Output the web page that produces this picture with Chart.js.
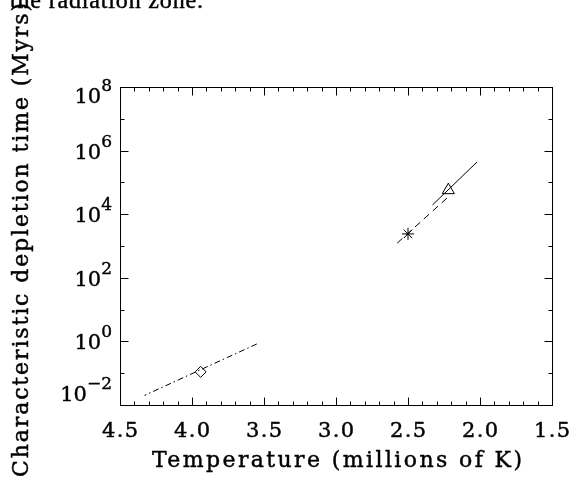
<!DOCTYPE html>
<html><head><meta charset="utf-8">
<script src="https://cdn.jsdelivr.net/npm/chart.js@4"></script>
<style>html,body{margin:0;padding:0;background:#fff;}canvas{display:block;}</style>
</head><body>
<canvas id="c" width="572" height="485"></canvas>
<script>
// ---- data ----
const solidT     = [2.02, 2.33];
const solidTau   = [4.4e5, 1.95e4];
const dashedT    = [2.23, 2.59];
const dashedTau  = [3.2e4, 1.07e3];
const dashDotT   = [3.55, 4.33];
const dashDotTau = [0.83, 0.02];
const triangleT = [2.22],  triangleTau = [5.7e4];
const starT     = [2.50],  starTau     = [2.4e3];
const diamondT  = [3.94],  diamondTau  = [0.11];

const xMajorTicks = [4.5, 4.0, 3.5, 3.0, 2.5, 2.0, 1.5];
const xTickLabels = ['4.5', '4.0', '3.5', '3.0', '2.5', '2.0', '1.5'];
const xMinorStep = 0.1;
const yMajorExps = [-2, 0, 2, 4, 6, 8];
const yMinorExps = [-1, 1, 3, 5, 7];
const xTitle = 'Temperature (millions of K)';
const yTitle = 'Characteristic depletion time (Myrs)';
const captionText = 'the radiation zone.';

const pts = (xs, ys) => xs.map((x, i) => ({x: x, y: ys[i]}));

function fitText(ctx, text, x0, y, width, font) {
  ctx.font = font;
  ctx.letterSpacing = '0px';
  const w = ctx.measureText(text).width;
  const n = [...text].length;
  const sp = n > 1 ? (width - w) / (n - 1) : 0;
  ctx.letterSpacing = sp + 'px';
  ctx.textAlign = 'left';
  ctx.lineWidth = 0.45;
  ctx.fillText(text, x0, y);
  ctx.strokeText(text, x0, y);
  ctx.letterSpacing = '0px';
}

const axesPlugin = {
  id: 'idlAxes',
  afterDraw(chart) {
    const ctx = chart.ctx, a = chart.chartArea;
    const xs = chart.scales.x, ys = chart.scales.y;
    ctx.save();
    ctx.strokeStyle = '#000';
    ctx.fillStyle = '#000';
    ctx.lineWidth = 1;
    const L = Math.round(a.left) + 0.5, R = Math.round(a.right) + 0.5;
    const T = Math.round(a.top) + 0.5, B = Math.round(a.bottom) + 0.5;
    ctx.strokeRect(L, T, R - L, B - T);
    ctx.beginPath();
    for (let v = 1.5; v <= 4.5001; v += xMinorStep) {
      const px = Math.round(xs.getPixelForValue(v)) + 0.5;
      const major = xMajorTicks.some(m => Math.abs(m - v) < 1e-6);
      const len = major ? 8 : 4;
      ctx.moveTo(px, B); ctx.lineTo(px, B - len);
      ctx.moveTo(px, T); ctx.lineTo(px, T + len);
    }
    yMajorExps.forEach(e => {
      const py = Math.round(ys.getPixelForValue(Math.pow(10, e))) + 0.5;
      ctx.moveTo(L, py); ctx.lineTo(L + 8, py);
      ctx.moveTo(R, py); ctx.lineTo(R - 8, py);
    });
    yMinorExps.forEach(e => {
      const py = Math.round(ys.getPixelForValue(Math.pow(10, e))) + 0.5;
      ctx.moveTo(L, py); ctx.lineTo(L + 4, py);
      ctx.moveTo(R, py); ctx.lineTo(R - 4, py);
    });
    ctx.stroke();

    ctx.textBaseline = 'alphabetic';
    xMajorTicks.forEach((v, i) => {
      const px = xs.getPixelForValue(v);
      fitText(ctx, xTickLabels[i], px - 18, 437, 36, '21px "DejaVu Serif"');
    });
    yMajorExps.forEach((e, i) => {
      const py = ys.getPixelForValue(Math.pow(10, e));
      let base = py + 8;
      if (i === yMajorExps.length - 1) base = py + 16;
      if (i === 0) base = py - 4;
      const sup = e < 0 ? '\u2212' + Math.abs(e) : String(e);
      const right = 112;
      ctx.lineWidth = 0.4;
      ctx.font = '17px "DejaVu Serif"';
      ctx.textAlign = 'right';
      ctx.fillText(sup, right, base - 12);
      ctx.strokeText(sup, right, base - 12);
      const sw = ctx.measureText(sup).width;
      ctx.font = '21px "DejaVu Serif"';
      ctx.fillText('10', right - sw, base);
      ctx.strokeText('10', right - sw, base);
    });
    fitText(ctx, xTitle, 152, 467, 370, '22px "DejaVu Serif"');
    ctx.save();
    ctx.translate(28, 240);
    ctx.rotate(-Math.PI / 2);
    fitText(ctx, yTitle, -237, 0, 474, '22px "DejaVu Serif"');
    ctx.restore();
    fitText(ctx, captionText, 10, 8, 193, '24px "Liberation Serif"');
    ctx.restore();
  }
};

const lineDs = (data, dash) => ({
  data: data, showLine: true, borderColor: '#000', borderWidth: 1,
  borderDash: dash, pointRadius: 0, fill: false, tension: 0
});
const markDs = (data, style, r) => ({
  data: data, showLine: false, pointStyle: style, pointRadius: r,
  borderColor: '#000', backgroundColor: 'rgba(0,0,0,0)', pointBorderWidth: 1
});

new Chart(document.getElementById('c'), {
  type: 'scatter',
  data: {
    datasets: [
      lineDs(pts(solidT, solidTau), []),
      lineDs(pts(dashedT, dashedTau), [7, 5]),
      lineDs(pts(dashDotT, dashDotTau), [6, 3, 1.5, 3]),
      markDs(pts(triangleT, triangleTau), 'triangle', 7),
      markDs(pts(starT, starTau), 'star', 6),
      markDs(pts(diamondT, diamondTau), 'rectRot', 5.5)
    ]
  },
  options: {
    responsive: false,
    animation: false,
    devicePixelRatio: 1,
    layout: { padding: { left: 120, top: 87, right: 20, bottom: 80 } },
    plugins: { legend: { display: false }, tooltip: { enabled: false } },
    scales: {
      x: { type: 'linear', reverse: true, min: 1.5, max: 4.5, display: false },
      y: { type: 'logarithmic', min: 0.01, max: 1e8, display: false }
    }
  },
  plugins: [axesPlugin]
});
</script>
</body></html>
